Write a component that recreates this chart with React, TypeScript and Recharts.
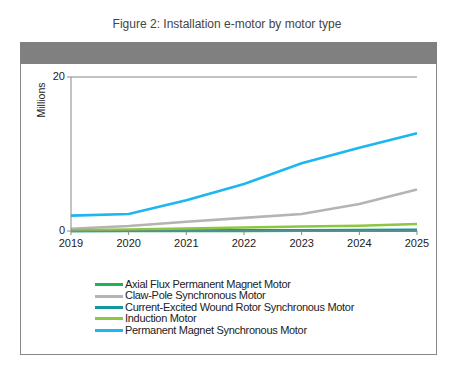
import React from 'react';
import { LineChart, Line, XAxis, YAxis, CartesianGrid } from 'recharts';

const years = ['2019', '2020', '2021', '2022', '2023', '2024', '2025'];
const axialFlux = [0.0, 0.0, 0.01, 0.02, 0.03, 0.04, 0.05];
const clawPole = [0.3, 0.65, 1.2, 1.7, 2.2, 3.5, 5.4];
const currentExcited = [0.02, 0.03, 0.05, 0.08, 0.1, 0.12, 0.15];
const induction = [0.1, 0.2, 0.32, 0.45, 0.58, 0.68, 0.9];
const pmsm = [2.0, 2.2, 4.0, 6.1, 8.8, 10.8, 12.7];
const yTicks = [0, 20];

const series = [
  { key: 'axial', name: 'Axial Flux Permanent Magnet Motor', color: '#1DB35A', values: axialFlux },
  { key: 'claw', name: 'Claw-Pole Synchronous Motor', color: '#B4B4B4', values: clawPole },
  { key: 'current', name: 'Current-Excited Wound Rotor Synchronous Motor', color: '#14969A', values: currentExcited },
  { key: 'induction', name: 'Induction Motor', color: '#8DC63F', values: induction },
  { key: 'pmsm', name: 'Permanent Magnet Synchronous Motor', color: '#1CB6F0', values: pmsm },
];

const data = years.map((y, i) => {
  const row: Record<string, string | number> = { year: y };
  series.forEach((s) => {
    row[s.key] = s.values[i];
  });
  return row;
});

const FONT = '"Liberation Sans", Arial, sans-serif';

const LegendBlock = () => (
  <div style={{ position: 'absolute', left: 95, top: 279, fontFamily: FONT, fontSize: 11, color: '#222', lineHeight: '11.4px' }}>
    {series.map((s) => (
      <div key={s.key} style={{ display: 'flex', alignItems: 'center', height: 11.4 }}>
        <span style={{ display: 'inline-block', width: 28, height: 3, background: s.color, marginRight: 2 }} />
        <span style={{ letterSpacing: -0.3 }}>{s.name}</span>
      </div>
    ))}
  </div>
);

export default function App() {
  return (
    <div style={{ position: 'absolute', left: 0, top: 0, width: 454, height: 375, background: '#fff', fontFamily: FONT }}>
      <div style={{ position: 'absolute', left: 0, width: 454, top: 17, textAlign: 'center', fontSize: 12, color: '#444' }}>
        Figure 2: Installation e-motor by motor type
      </div>
      <div style={{ position: 'absolute', left: 20, top: 42, width: 415, height: 311, border: '1.5px solid #888', boxSizing: 'content-box' }} />
      <div style={{ position: 'absolute', left: 20, top: 42, width: 417, height: 22, background: '#808080' }} />
      <div style={{ position: 'absolute', left: 0, top: 0 }}>
        <LineChart width={454} height={375} data={data} margin={{ top: 77, right: 37, left: 0, bottom: 124 }}>
          <CartesianGrid horizontal={true} vertical={false} stroke="#888" horizontalValues={[20]} />
          <XAxis
            dataKey="year"
            padding={{ left: 0, right: 0 }}
            stroke="#888"
            tickLine={{ stroke: '#888' }}
            tickSize={4}
            tickMargin={4}
            height={20}
            tick={{ fill: '#222', fontSize: 11, fontFamily: FONT }}
            interval={0}
          />
          <YAxis
            domain={[0, 20]}
            ticks={yTicks}
            width={71}
            stroke="#888"
            tickSize={4}
            tick={{ fill: '#222', fontSize: 11, fontFamily: FONT, dy: -1 }}
            label={() => (
              <text
                x={45}
                y={100}
                transform="rotate(-90 45 100)"
                textAnchor="middle"
                fontSize={10.5}
                fontFamily={FONT}
                fill="#222"
              >
                Millions
              </text>
            )}
          />
          {series.map((s) => (
            <Line
              key={s.key}
              type="linear"
              dataKey={s.key}
              name={s.name}
              stroke={s.color}
              strokeWidth={2.6}
              dot={false}
              isAnimationActive={false}
            />
          ))}
        </LineChart>
      </div>
      <LegendBlock />
    </div>
  );
}
